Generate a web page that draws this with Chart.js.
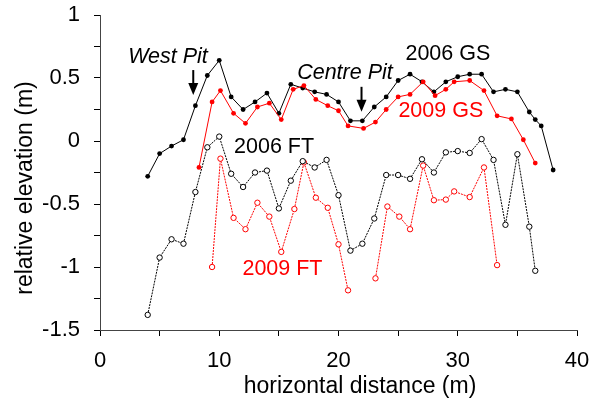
<!DOCTYPE html>
<html><head><meta charset="utf-8">
<script src="https://cdn.jsdelivr.net/npm/chart.js@4.4.1/dist/chart.umd.min.js"></script>
<style>html,body{margin:0;padding:0;background:#fff}</style>
</head><body>
<canvas id="c" width="592" height="408"></canvas>
<script>
// ---- data ----
const gs2006X = [4,5,6,7,8,9,10,11,12,13,14,15,16,17,18,19,20,21,22,23,24,25,26,27,28,29,30,31,32,33,34,35,36,36.5,37,38];
const gs2006Y = [-0.28,-0.10,-0.04,0.01,0.28,0.52,0.64,0.35,0.25,0.31,0.38,0.22,0.45,0.42,0.39,0.37,0.31,0.16,0.16,0.27,0.35,0.48,0.53,0.47,0.39,0.47,0.51,0.53,0.53,0.39,0.41,0.39,0.23,0.17,0.12,-0.23];

const gs2009X = [8.3,9.4,10.1,11.2,12.2,13.2,14.2,15.2,16.2,17.1,18.1,19.1,20,20.8,22.1,23.1,24,25,26,27.1,28.1,29,29.7,31,32.2,33.3,34.5,35.5,36.5];
const gs2009Y = [-0.21,0.31,0.40,0.22,0.14,0.27,0.30,0.17,0.41,0.44,0.33,0.28,0.24,0.12,0.10,0.15,0.25,0.35,0.37,0.47,0.36,0.41,0.47,0.48,0.40,0.20,0.175,0.01,-0.175];

const ft2006X = [4,5,6,7,8,9,10,11,12,13,14,15,16,17,18,19,20,21,22,23,24,25,26,27,28,29,30,31,32,33,34,35,36,36.5];
const ft2006Y = [-1.38,-0.925,-0.78,-0.815,-0.405,-0.05,0.035,-0.26,-0.365,-0.25,-0.235,-0.535,-0.315,-0.16,-0.21,-0.15,-0.43,-0.87,-0.815,-0.615,-0.27,-0.27,-0.30,-0.145,-0.25,-0.09,-0.08,-0.095,0.015,-0.15,-0.665,-0.105,-0.68,-1.03];

const ft2009X = [9.4,10.1,11.2,12.2,13.2,14.2,15.2,16.3,17.1,18.1,19.1,20,20.8,22,23.1,24.1,25.1,26,27.1,28,29,29.7,31,32.2,33.3];
const ft2009Y = [-1.0,-0.14,-0.61,-0.70,-0.49,-0.60,-0.88,-0.54,-0.17,-0.45,-0.53,-0.82,-1.185,null,-1.09,-0.52,-0.60,-0.70,-0.195,-0.47,-0.465,-0.40,-0.445,-0.21,-0.985];

const seriesNames = ['2006 GS','2009 GS','2006 FT','2009 FT'];
const xTitle = 'horizontal distance (m)';
const yTitle = 'relative elevation (m)';

// ---- helpers ----
const FONT = '"Liberation Sans", Arial, sans-serif';
const pts = (xs, ys) => xs.map((x, i) => ({x: x, y: ys[i]}));

const notes = [
  {text: 'West Pit',   x: 5.7,  y: 0.667, color: '#000', italic: true},
  {text: 'Centre Pit', x: 20.54,y: 0.54,  color: '#000', italic: true},
  {text: '2006 GS',    x: 29.17,y: 0.69,  color: '#000'},
  {text: '2009 GS',    x: 28.58,y: 0.234, color: '#ff0000'},
  {text: '2006 FT',    x: 14.6, y: -0.052,color: '#000'},
  {text: '2009 FT',    x: 15.3, y: -1.016,color: '#ff0000'}
];
const arrows = [
  {x: 7.82,  y1: 0.563, y2: 0.365},
  {x: 21.93, y1: 0.43,  y2: 0.233}
];

const annot = {
  id: 'annot',
  afterDraw(chart) {
    const ctx = chart.ctx, xs = chart.scales.x, ys = chart.scales.y;
    ctx.save();
    ctx.textAlign = 'center';
    ctx.textBaseline = 'middle';
    notes.forEach(n => {
      ctx.font = (n.italic ? 'italic ' : '') + '21.5px ' + FONT;
      ctx.fillStyle = n.color;
      ctx.fillText(n.text, xs.getPixelForValue(n.x), ys.getPixelForValue(n.y));
    });
    arrows.forEach(a => {
      const px = xs.getPixelForValue(a.x), p1 = ys.getPixelForValue(a.y1), p2 = ys.getPixelForValue(a.y2);
      ctx.strokeStyle = '#000'; ctx.fillStyle = '#000'; ctx.lineWidth = 2;
      ctx.beginPath(); ctx.moveTo(px, p1); ctx.lineTo(px, p2 - 10); ctx.stroke();
      ctx.beginPath(); ctx.moveTo(px - 5, p2 - 12); ctx.lineTo(px + 5, p2 - 12); ctx.lineTo(px, p2); ctx.closePath(); ctx.fill();
    });
    // axis titles
    ctx.fillStyle = '#000';
    ctx.font = '23px ' + FONT;
    ctx.fillText(xTitle, 360, 387);
    ctx.translate(26, 188);
    ctx.rotate(-Math.PI / 2);
    ctx.fillText(yTitle, 0, 0);
    ctx.restore();
  }
};

const common = {tension: 0, borderWidth: 1, spanGaps: false, fill: false};
const datasets = [
  Object.assign({label: seriesNames[2], data: pts(ft2006X, ft2006Y), borderColor: '#000', borderDash: [2,1],
    pointRadius: 2.7, pointBorderWidth: 1, pointBorderColor: '#000', pointBackgroundColor: '#fff'}, common),
  Object.assign({label: seriesNames[3], data: pts(ft2009X, ft2009Y), borderColor: '#ff0000', borderDash: [2,1],
    pointRadius: 2.7, pointBorderWidth: 1, pointBorderColor: '#ff0000', pointBackgroundColor: '#fff'}, common),
  Object.assign({label: seriesNames[1], data: pts(gs2009X, gs2009Y), borderColor: '#ff0000',
    pointRadius: 2.4, pointBorderWidth: 0, pointBackgroundColor: '#ff0000'}, common),
  Object.assign({label: seriesNames[0], data: pts(gs2006X, gs2006Y), borderColor: '#000',
    pointRadius: 2.4, pointBorderWidth: 0, pointBackgroundColor: '#000'}, common)
];

new Chart(document.getElementById('c'), {
  type: 'line',
  data: {datasets},
  plugins: [annot],
  options: {
    responsive: false, animation: false, devicePixelRatio: 1,
    layout: {padding: {top: 15, right: 15, left: 0, bottom: 0}},
    plugins: {legend: {display: false}, tooltip: {enabled: false}},
    scales: {
      x: {
        type: 'linear', min: 0, max: 40,
        afterFit: s => { s.height = 78; s.paddingLeft = 0; s.paddingRight = 0; },
        ticks: {stepSize: 5, autoSkip: false, maxRotation: 0, color: '#000', padding: 12,
          font: {family: FONT, size: 22},
          callback: v => (v % 10 === 0 ? String(v) : '')},
        grid: {drawOnChartArea: false, drawTicks: true, tickLength: 6, color: '#000'},
        border: {display: true, color: '#444', width: 1}
      },
      y: {
        type: 'linear', min: -1.5, max: 1,
        afterFit: s => { s.width = 100; s.paddingTop = 0; s.paddingBottom = 0; },
        ticks: {stepSize: 0.25, autoSkip: false, color: '#000', padding: 14,
          font: {family: FONT, size: 22},
          callback: v => (Math.abs(v % 0.5) < 1e-9 ? String(Math.round(v * 10) / 10) : '')},
        grid: {drawOnChartArea: false, drawTicks: true, tickLength: 6, color: '#000'},
        border: {display: true, color: '#444', width: 1}
      }
    }
  }
});
</script>
</body></html>
